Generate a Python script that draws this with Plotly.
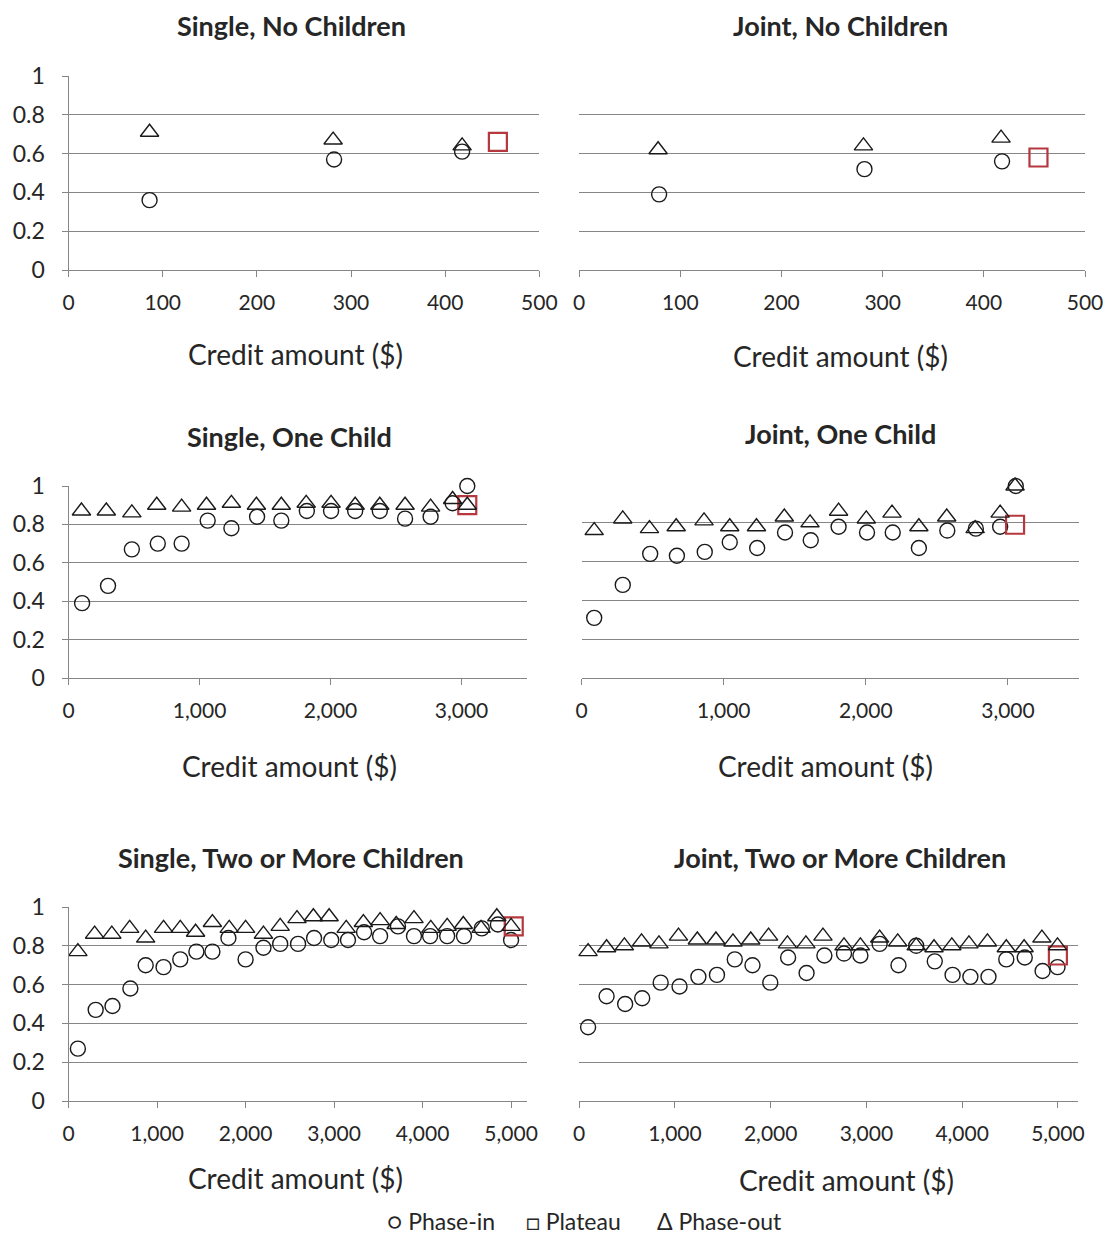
import plotly.graph_objects as go

# page body has an 8px margin on every side; keep the page exactly 1113x1245
OFF = 8
W, H = 1113 - 2 * OFF, 1245 - 2 * OFF

# ---------------- data ----------------
titles = ["Single, No Children", "Joint, No Children",
          "Single, One Child", "Joint, One Child",
          "Single, Two or More Children", "Joint, Two or More Children"]

# Single, No Children
snc_in_x = [86, 282, 418]
snc_in_y = [0.36, 0.57, 0.61]
snc_out_x = [86, 281, 418]
snc_out_y = [0.71, 0.67, 0.64]
snc_plat_x = [456]
snc_plat_y = [0.66]

# Joint, No Children
jnc_in_x = [79, 282, 418]
jnc_in_y = [0.39, 0.52, 0.56]
jnc_out_x = [78, 281, 417]
jnc_out_y = [0.62, 0.64, 0.68]
jnc_plat_x = [454]
jnc_plat_y = [0.58]

# Single, One Child
s1_in_x = [103, 301, 483, 681, 863, 1062, 1243, 1439, 1624, 1819, 2004, 2188, 2376, 2569, 2764, 2932, 3044]
s1_in_y = [0.39, 0.48, 0.67, 0.70, 0.70, 0.82, 0.78, 0.84, 0.82, 0.87, 0.87, 0.87, 0.87, 0.83, 0.84, 0.91, 1.00]
s1_out_x = [98, 288, 483, 673, 863, 1053, 1243, 1434, 1624, 1814, 2004, 2188, 2376, 2569, 2764, 2932, 3044]
s1_out_y = [0.87, 0.87, 0.86, 0.90, 0.89, 0.90, 0.91, 0.90, 0.90, 0.91, 0.91, 0.90, 0.90, 0.90, 0.89, 0.93, 0.90]
s1_plat_x = [3044]
s1_plat_y = [0.90]

# Joint, One Child
j1_in_x = [88, 289, 482, 670, 866, 1042, 1235, 1431, 1612, 1808, 2008, 2189, 2373, 2573, 2774, 2945, 3055]
j1_in_y = [0.31, 0.48, 0.64, 0.63, 0.65, 0.70, 0.67, 0.75, 0.71, 0.78, 0.75, 0.75, 0.67, 0.76, 0.77, 0.78, 0.99]
j1_out_x = [88, 289, 477, 665, 861, 1042, 1230, 1426, 1607, 1808, 2003, 2184, 2373, 2569, 2769, 2945, 3050]
j1_out_y = [0.76, 0.82, 0.77, 0.78, 0.81, 0.78, 0.78, 0.83, 0.80, 0.86, 0.82, 0.85, 0.78, 0.83, 0.77, 0.85, 0.99]
j1_plat_x = [3050]
j1_plat_y = [0.79]

# Single, Two or More Children
s2_in_x = [105, 306, 496, 698, 871, 1073, 1262, 1444, 1625, 1806, 2000, 2202, 2391, 2593, 2774, 2968,
           3157, 3339, 3520, 3722, 3903, 4085, 4278, 4468, 4669, 4851, 5000]
s2_in_y = [0.27, 0.47, 0.49, 0.58, 0.70, 0.69, 0.73, 0.77, 0.77, 0.84, 0.73, 0.79, 0.81, 0.81, 0.84, 0.83,
           0.83, 0.87, 0.85, 0.90, 0.85, 0.85, 0.85, 0.85, 0.89, 0.91, 0.83]
s2_out_x = [105, 294, 488, 690, 871, 1073, 1262, 1435, 1625, 1815, 2000, 2202, 2391, 2581, 2766, 2944,
            3137, 3331, 3520, 3702, 3903, 4093, 4278, 4460, 4661, 4839, 5000]
s2_out_y = [0.77, 0.86, 0.86, 0.89, 0.84, 0.89, 0.89, 0.87, 0.92, 0.89, 0.89, 0.86, 0.90, 0.94, 0.95, 0.95,
            0.89, 0.92, 0.93, 0.91, 0.94, 0.89, 0.90, 0.91, 0.89, 0.95, 0.90]
s2_plat_x = [5030]
s2_plat_y = [0.90]

# Joint, Two or More Children
j2_in_x = [93, 286, 480, 658, 851, 1048, 1245, 1439, 1625, 1810, 1996, 2182, 2375, 2561, 2766, 2937,
           3138, 3335, 3520, 3714, 3900, 4086, 4275, 4461, 4654, 4840, 4996]
j2_in_y = [0.38, 0.54, 0.50, 0.53, 0.61, 0.59, 0.64, 0.65, 0.73, 0.70, 0.61, 0.74, 0.66, 0.75, 0.76, 0.75,
           0.81, 0.70, 0.80, 0.72, 0.65, 0.64, 0.64, 0.73, 0.74, 0.67, 0.69]
j2_out_x = [93, 286, 472, 651, 833, 1037, 1234, 1428, 1606, 1792, 1978, 2175, 2368, 2546, 2766, 2937,
            3138, 3327, 3520, 3706, 3892, 4071, 4264, 4461, 4647, 4833, 4996]
j2_out_y = [0.77, 0.79, 0.80, 0.82, 0.81, 0.85, 0.83, 0.83, 0.82, 0.83, 0.85, 0.81, 0.81, 0.85, 0.80, 0.80,
            0.84, 0.82, 0.80, 0.79, 0.80, 0.81, 0.82, 0.79, 0.79, 0.84, 0.80]
j2_plat_x = [5000]
j2_plat_y = [0.75]

y_ticks = [0, 0.2, 0.4, 0.6, 0.8, 1]
y_ticktext = ["0", "0.2", "0.4", "0.6", "0.8", "1"]
x_ticks_small = [0, 100, 200, 300, 400, 500]
x_ticks_3k = [0, 1000, 2000, 3000]
x_ticks_5k = [0, 1000, 2000, 3000, 4000, 5000]
x_label = "Credit amount ($)"
legend_items = ["○ Phase-in", "□ Plateau", "Δ Phase-out"]

panels = [
    (snc_in_x, snc_in_y, snc_plat_x, snc_plat_y, snc_out_x, snc_out_y),
    (jnc_in_x, jnc_in_y, jnc_plat_x, jnc_plat_y, jnc_out_x, jnc_out_y),
    (s1_in_x, s1_in_y, s1_plat_x, s1_plat_y, s1_out_x, s1_out_y),
    (j1_in_x, j1_in_y, j1_plat_x, j1_plat_y, j1_out_x, j1_out_y),
    (s2_in_x, s2_in_y, s2_plat_x, s2_plat_y, s2_out_x, s2_out_y),
    (j2_in_x, j2_in_y, j2_plat_x, j2_plat_y, j2_out_x, j2_out_y),
]

# ---------------- layout geometry (page pixels) ----------------
# (x_left, x_right, y_top, y_bottom, x_max, x_ticks)
geom = [
    (68.6, 539.3, 76, 270, 500, x_ticks_small),
    (579.2, 1085, 76, 270, 500, x_ticks_small),
    (68.6, 527, 486, 678, 3500, x_ticks_3k),
    (581.7, 1079, 484, 678, 3500, x_ticks_3k),
    (68.6, 527, 907, 1101, 5180, x_ticks_5k),
    (579.2, 1078, 907, 1101, 5210, x_ticks_5k),
]
title_pos = [(291, 25), (840, 25), (289, 436), (840, 434), (291, 857), (840, 857)]
xlabel_pos = [(295, 354), (840, 356), (289, 766), (825, 766), (295, 1178), (846, 1180)]
legend_pos = [(385, 1221), (524, 1221), (655, 1221)]


def px(x):
    return (x - OFF) / W


def py(y):
    return 1 - (y - OFF) / H


FONT = "Lato, 'Open Sans', sans-serif"
GRID = "#868686"
RED = "#B5383E"
TXT = "#262626"

fig = go.Figure()
annotations = []
layout_axes = {}

for i, (pdata, g) in enumerate(zip(panels, geom)):
    in_x, in_y, pl_x, pl_y, out_x, out_y = pdata
    x0, x1, yt, yb, xmax, xt = g
    n = "" if i == 0 else str(i + 1)
    xa, ya = "x" + n, "y" + n
    fig.add_trace(go.Scatter(x=in_x, y=in_y, mode="markers", xaxis=xa, yaxis=ya,
                             name="Phase-in", showlegend=False, cliponaxis=False,
                             marker=dict(symbol="circle-open", size=15, color="#1a1a1a",
                                         line=dict(width=1.4, color="#1a1a1a"))))
    fig.add_trace(go.Scatter(x=pl_x, y=pl_y, mode="markers", xaxis=xa, yaxis=ya,
                             name="Plateau", showlegend=False, cliponaxis=False,
                             marker=dict(symbol="square-open", size=18, color=RED,
                                         line=dict(width=2.2, color=RED))))
    fig.add_trace(go.Scatter(x=out_x, y=out_y, mode="markers", xaxis=xa, yaxis=ya,
                             name="Phase-out", showlegend=False, cliponaxis=False,
                             marker=dict(symbol="triangle-up-open", size=16, color="#1a1a1a",
                                         line=dict(width=1.4, color="#1a1a1a"))))
    left = (i % 2 == 0)
    layout_axes["xaxis" + n] = dict(
        domain=[px(x0), px(x1)], anchor=ya, range=[0, xmax],
        tickvals=xt, tickformat=",d", automargin=False,
        showline=True, linecolor=GRID, linewidth=1.2,
        ticks="outside", ticklen=6, tickcolor=GRID, tickwidth=1.2,
        showgrid=False, zeroline=False, ticklabelstandoff=8,
        tickfont=dict(family=FONT, size=21, color=TXT), fixedrange=True)
    layout_axes["yaxis" + n] = dict(
        domain=[py(yb), py(yt)], anchor=xa, range=[0, 1.0001],
        tickvals=y_ticks, ticktext=y_ticktext, automargin=False,
        showticklabels=left, showline=left, linecolor=GRID, linewidth=1.2,
        ticks="outside" if left else "", ticklen=6, tickcolor=GRID, tickwidth=1.2,
        showgrid=True, gridcolor=GRID, gridwidth=1.2, zeroline=False,
        ticklabelstandoff=12,
        tickfont=dict(family=FONT, size=23, color=TXT), fixedrange=True)
    tx, ty = title_pos[i]
    annotations.append(dict(text="<b>" + titles[i] + "</b>", x=px(tx), y=py(ty),
                            xref="paper", yref="paper", showarrow=False,
                            xanchor="center", yanchor="middle",
                            font=dict(family=FONT, size=27, color=TXT)))
    lx, ly = xlabel_pos[i]
    annotations.append(dict(text=x_label, x=px(lx), y=py(ly),
                            xref="paper", yref="paper", showarrow=False,
                            xanchor="center", yanchor="middle",
                            font=dict(family=FONT, size=28, color=TXT)))

for txt, (lx, ly) in zip(legend_items, legend_pos):
    annotations.append(dict(text=txt, x=px(lx), y=py(ly),
                            xref="paper", yref="paper", showarrow=False,
                            xanchor="left", yanchor="middle",
                            font=dict(family=FONT, size=23, color=TXT)))

fig.update_layout(
    width=W, height=H, margin=dict(l=0, r=0, t=0, b=0, autoexpand=False),
    paper_bgcolor="white", plot_bgcolor="white",
    showlegend=False, annotations=annotations, **layout_axes)

fig.write_html("out.html")
